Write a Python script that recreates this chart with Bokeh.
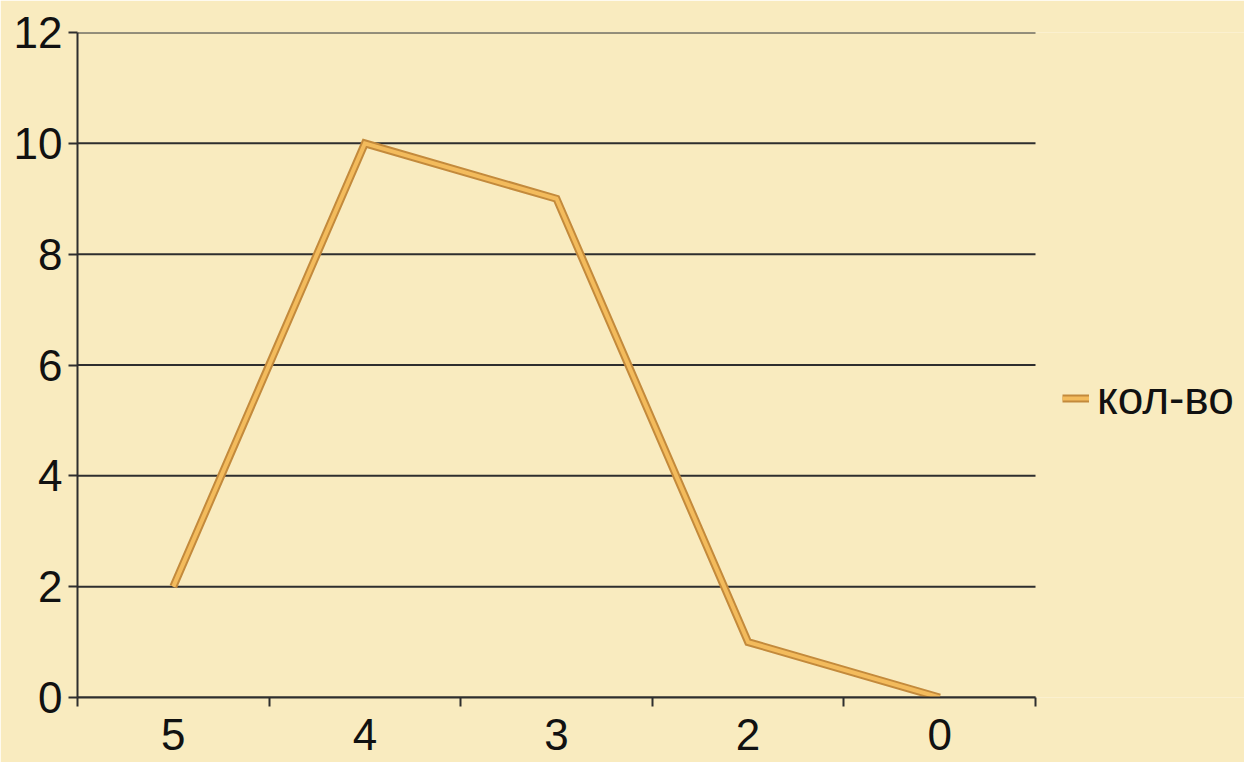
from bokeh.plotting import figure
from bokeh.models import FixedTicker, Range1d, Legend, LegendItem, ColumnDataSource
from bokeh.embed import file_html
from bokeh.resources import INLINE

categories = ["5", "4", "3", "2", "0"]
values = [2, 10, 9, 1, 0]
series_name = "кол-во"
y_ticks = [0, 2, 4, 6, 8, 10, 12]

n = len(categories)
xs = [i + 0.5 for i in range(n)]
src = ColumnDataSource(dict(x=xs, y=values))

FONT = "Liberation Sans"
BG = "#F9EBBF"
DARK = "#2E2E2E"

# frame spans to the right edge so the legend can sit inside it;
# axis and gridlines are limited to the category span [0, n]
W, H = 1244, 762
LEFT, TOP, BOTTOM = 77, 32, 65
PLOT_W = 958
x_end = n * (W - LEFT) / PLOT_W

p = figure(width=W, height=H, output_backend="svg", toolbar_location=None,
           x_range=Range1d(0, x_end), y_range=Range1d(0, y_ticks[-1]),
           min_border_left=LEFT, min_border_right=0, min_border_top=TOP, min_border_bottom=BOTTOM)
p.background_fill_color = BG
p.border_fill_color = BG
p.outline_line_color = None

# horizontal gridlines across the category span only
grid_src = ColumnDataSource(dict(x0=[0] * len(y_ticks), x1=[n] * len(y_ticks), y=y_ticks))
p.segment(x0="x0", x1="x1", y0="y", y1="y", source=grid_src, line_color=DARK, line_width=2)
p.xgrid.visible = False
p.ygrid.visible = False

outer = p.line("x", "y", source=src, line_color="#C38A3C", line_width=8, line_join="miter")
inner = p.line("x", "y", source=src, line_color="#F3BB5C", line_width=4, line_join="miter")

# x axis: labels at category centres, ticks at category boundaries
xa = p.xaxis[0]
xa.bounds = (0, n)
xa.ticker = FixedTicker(ticks=xs, minor_ticks=list(range(n + 1)))
xa.major_label_overrides = {x: c for x, c in zip(xs, categories)}
xa.major_tick_out = 0
xa.major_tick_in = 0
xa.minor_tick_out = 9
xa.minor_tick_in = 0
xa.minor_tick_line_color = DARK
xa.minor_tick_line_width = 2
xa.axis_line_color = DARK
xa.axis_line_width = 2
xa.major_label_text_font = FONT
xa.major_label_text_font_size = "44px"
xa.major_label_text_color = "#111111"
xa.major_label_standoff = 12

ya = p.yaxis[0]
ya.ticker = FixedTicker(ticks=y_ticks, minor_ticks=[])
ya.major_tick_out = 9
ya.major_tick_in = 0
ya.major_tick_line_color = DARK
ya.major_tick_line_width = 2
ya.axis_line_color = DARK
ya.axis_line_width = 2
ya.major_label_text_font = FONT
ya.major_label_text_font_size = "44px"
ya.major_label_text_color = "#111111"
ya.major_label_standoff = 6

legend = Legend(items=[LegendItem(label=series_name, renderers=[outer, inner])],
                location=(985, 272), orientation="vertical",
                background_fill_alpha=0, border_line_color=None,
                label_text_font=FONT, label_text_font_size="46px", label_text_color="#111111",
                glyph_width=27, label_standoff=8, padding=0, margin=0)
p.add_layout(legend, "center")

open("out.html", "w").write(file_html(p, INLINE))
